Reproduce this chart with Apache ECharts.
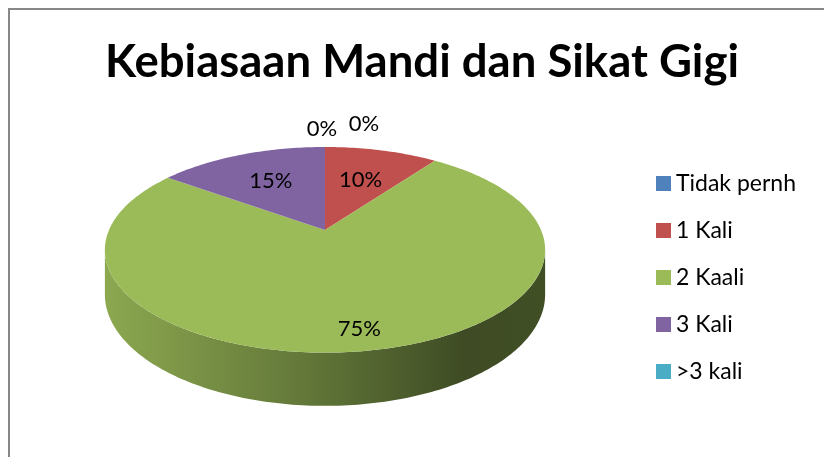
<!DOCTYPE html>
<html>
<head>
<meta charset="utf-8">
<script src="https://cdn.jsdelivr.net/npm/echarts@6/dist/echarts.min.js"></script>
<style>
  html, body { margin: 0; padding: 0; background: #fff; }
  #main { width: 824px; height: 457px; }
</style>
</head>
<body>
<div id="main"></div>
<script>
// data
var categories = ["Tidak pernh", "1 Kali", "2 Kaali", "3 Kali", ">3 kali"];
var values = [0, 10, 75, 15, 0];

void (function() {
  var myChart = echarts.init(document.getElementById("main"));
  var palette = ["#4f81bd", "#c0504d", "#9bbb59", "#8064a2", "#4bacc6"];
  var font = "Lato, 'Open Sans', sans-serif";

  // fake 3d pie: circle on a tilted plane with a bit of perspective
  var P = { cx: 325, cy: 230, rx: 216, ry: 99, a: 0.1925, depth: 43 };

  var total = values.reduce(function(s, v) { return s + v; }, 0);
  var starts = [];
  var acc = 0;
  for (var i = 0; i < values.length; i++) {
    starts.push(acc);
    acc += values[i] / total * 360;
  }

  function shade(hex, k) {
    var c = echarts.color.parse(hex);
    return "rgb(" + Math.round(c[0] * k) + "," + Math.round(c[1] * k) + "," + Math.round(c[2] * k) + ")";
  }

  function proj(deg, f, h) {
    var t = deg * Math.PI / 180;
    var u = f * Math.sin(t), v = f * Math.cos(t);
    var s = 1 / (1 + P.a * v);
    return [P.cx + P.rx * u * s, P.cy - P.ry * v * s + h * s];
  }

  function arc(d0, d1, h) {
    var pts = [];
    var n = Math.max(2, Math.ceil(Math.abs(d1 - d0)));
    for (var k = 0; k <= n; k++) {
      pts.push(proj(d0 + (d1 - d0) * k / n, 1, h));
    }
    return pts;
  }

  // silhouette of the side wall
  var sideFrom = Math.acos(-P.a) * 180 / Math.PI;
  var sideTo = 360 - sideFrom;

  function renderSlice(idx) {
    return function(params, api) {
      var share = values[idx] / total;
      var d0 = starts[idx];
      var d1 = d0 + share * 360;
      var base = palette[idx];
      var children = [];

      if (d1 > d0) {
        var s0 = Math.max(d0, sideFrom), s1 = Math.min(d1, sideTo);
        if (s1 > s0) {
          var top = arc(s0, s1, 0);
          var bot = arc(s0, s1, P.depth).reverse();
          var left = P.cx - P.rx * 1.02;
          var right = P.cx + P.rx * 1.02;
          children.push({
            type: "polygon",
            z2: 1,
            shape: { points: top.concat(bot) },
            style: {
              fill: {
                type: "linear", x: left, y: 0, x2: right, y2: 0, global: true,
                colorStops: [
                  { offset: 0, color: shade(base, 0.9) },
                  { offset: 0.45, color: shade(base, 0.64) },
                  { offset: 0.82, color: shade(base, 0.4) },
                  { offset: 1, color: shade(base, 0.42) }
                ]
              }
            }
          });
        }
        children.push({
          type: "polygon",
          z2: 5,
          shape: { points: [[P.cx, P.cy]].concat(arc(d0, d1, 0)) },
          style: { fill: base }
        });
      }

      // label
      var pct = Math.round(share * 100) + "%";
      var pos;
      if (values[idx] > 0) {
        pos = proj((d0 + d1) / 2, 0.55 + 0.4 * share, 0);
      } else {
        var k = 0;
        for (var j = 0; j < idx; j++) if (values[j] === 0) k++;
        pos = proj(d0, 1.27, 0);
        pos = [pos[0] - 3 + k * 42, pos[1] - k * 5];
      }
      children.push({
        type: "text",
        z2: 10,
        x: pos[0],
        y: pos[1],
        style: {
          text: pct, fill: "#000", fontSize: 22, fontFamily: font,
          align: "center", verticalAlign: "middle"
        }
      });
      return { type: "group", children: children };
    };
  }

  var series = categories.map(function(name, i) {
    return {
      type: "custom",
      name: name,
      coordinateSystem: "none",
      itemStyle: { color: palette[i] },
      data: [[values[i]]],
      renderItem: renderSlice(i),
      silent: true
    };
  });

  var option = {
    animation: false,
    color: palette,
    title: {
      text: "Kebiasaan Mandi dan Sikat Gigi",
      left: 100,
      top: 34,
      textStyle: { fontFamily: font, fontSize: 45.5, fontWeight: "bold", color: "#000" }
    },
    legend: {
      orient: "vertical",
      left: 651,
      top: 167,
      icon: "rect",
      itemWidth: 15,
      itemHeight: 15,
      itemGap: 24,
      itemStyle: { borderWidth: 0 },
      selectedMode: false,
      textStyle: { fontFamily: font, fontSize: 23, lineHeight: 23, color: "#000" },
      data: categories
    },
    graphic: [
      {
        type: "rect",
        shape: { x: 9, y: 9, width: 840, height: 470 },
        style: { fill: "none", stroke: "#878787", lineWidth: 2 },
        silent: true
      }
    ],
    series: series
  };

  myChart.setOption(option);
})();
</script>
</body>
</html>
